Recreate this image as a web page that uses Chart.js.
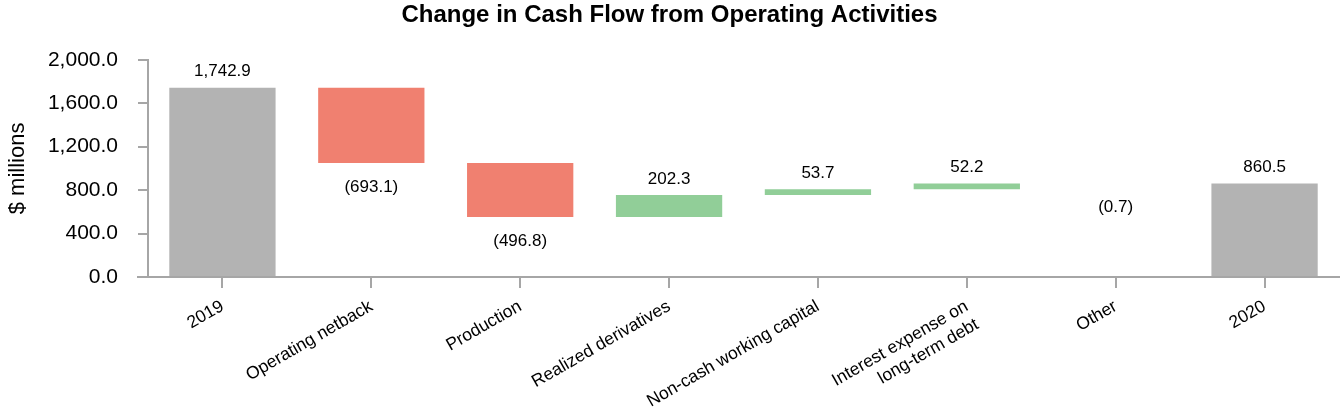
<!DOCTYPE html>
<html>
<head>
<meta charset="utf-8">
<script src="https://cdn.jsdelivr.net/npm/chart.js@4/dist/chart.umd.min.js"></script>
<style>
    body { margin: 0; background: #fff; }
</style>
</head>
<body>
<canvas id="cashChart" width="1340" height="420"></canvas>
<script>
// カテゴリ
const categories = ['2019', 'Operating netback', 'Production', 'Realized derivatives',
    'Non-cash working capital', ['Interest expense on', 'long-term debt'], 'Other', '2020'];
// 値（合計バーは total、それ以外は増減）
const amounts = [1742.9, -693.1, -496.8, 202.3, 53.7, 52.2, -0.7, 860.5];
const barKinds = ['total', 'change', 'change', 'change', 'change', 'change', 'change', 'total'];
// y軸の目盛り
const yTicks = [0, 400, 800, 1200, 1600, 2000];

const FONT = "'Liberation Sans', Arial, sans-serif";
const AXIS_COLOR = '#a6a6a6';

// ウォーターフォールの範囲を作る
let running = 0;
const ranges = amounts.map((v, i) => {
    if (barKinds[i] === 'total') {
        running = v;
        return [0, v];
    }
    const start = running;
    running = running + v;
    return [start, running];
});
const colors = amounts.map((v, i) => {
    if (barKinds[i] === 'total') return '#b3b3b3';
    if (Math.abs(v) < 1) return 'rgba(0,0,0,0)'; // 1px未満のバーは見えない
    return v < 0 ? '#f08070' : '#91ce98';
});

function formatValue(v) {
    const s = Math.abs(v).toLocaleString('en-US', { minimumFractionDigits: 1, maximumFractionDigits: 1 });
    return v < 0 ? '(' + s + ')' : s;
}

// 値ラベルとx軸の線
const waterfallLabels = {
    id: 'waterfallLabels',
    afterDatasetsDraw(chart) {
        const ctx = chart.ctx;
        const yScale = chart.scales.y;
        const meta = chart.getDatasetMeta(0);
        ctx.save();
        ctx.font = '17px ' + FONT;
        ctx.fillStyle = '#000';
        ctx.textAlign = 'center';
        ctx.textBaseline = 'middle';
        meta.data.forEach((bar, i) => {
            const r = ranges[i];
            const v = amounts[i];
            let y;
            if (v >= 0) {
                y = yScale.getPixelForValue(Math.max(r[0], r[1])) - 16;
            } else {
                y = yScale.getPixelForValue(Math.min(r[0], r[1])) + 24;
            }
            ctx.fillText(formatValue(v), bar.x, y);
        });
        // x軸の線（y軸より少し左から）
        const area = chart.chartArea;
        ctx.strokeStyle = AXIS_COLOR;
        ctx.lineWidth = 2;
        ctx.beginPath();
        ctx.moveTo(area.left - 11, area.bottom);
        ctx.lineTo(area.right + 1, area.bottom);
        ctx.stroke();
        ctx.restore();
    }
};

const config = {
    type: 'bar',
    data: {
        labels: categories,
        datasets: [{
            data: ranges,
            backgroundColor: colors,
            borderWidth: 0,
            categoryPercentage: 1.0,
            barPercentage: 0.714
        }]
    },
    options: {
        responsive: false,
        animation: false,
        layout: { padding: { left: 0, right: 1, top: 0, bottom: 0 } },
        plugins: {
            legend: { display: false },
            tooltip: { enabled: false },
            title: {
                display: true,
                text: 'Change in Cash Flow from Operating Activities',
                color: '#000',
                font: { family: FONT, size: 24, weight: 'bold' },
                padding: { top: 1, bottom: 30 }
            }
        },
        scales: {
            x: {
                grid: {
                    display: true,
                    drawOnChartArea: false,
                    drawTicks: true,
                    tickLength: 11,
                    color: AXIS_COLOR,
                    lineWidth: 2,
                    offset: false
                },
                border: { display: false },
                ticks: {
                    color: '#000',
                    font: { family: FONT, size: 17.5 },
                    minRotation: 30,
                    maxRotation: 30,
                    padding: 8,
                    autoSkip: false
                },
                afterFit(scale) { scale.height = 143; }
            },
            y: {
                min: 0,
                max: 2000,
                afterBuildTicks(scale) {
                    scale.ticks = yTicks.map(v => ({ value: v }));
                },
                grid: {
                    display: true,
                    drawOnChartArea: false,
                    drawTicks: true,
                    tickLength: 10,
                    color: AXIS_COLOR,
                    lineWidth: 2
                },
                border: { display: true, color: AXIS_COLOR, width: 2 },
                ticks: {
                    color: '#000',
                    font: { family: FONT, size: 21 },
                    padding: 20,
                    callback: v => Number(v).toLocaleString('en-US', { minimumFractionDigits: 1, maximumFractionDigits: 1 })
                },
                title: {
                    display: true,
                    text: '$ millions',
                    color: '#000',
                    font: { family: FONT, size: 22 },
                    padding: { top: 5, bottom: 0 }
                },
                afterFit(scale) { scale.width = 148; }
            }
        }
    },
    plugins: [waterfallLabels]
};

const chartInstance = new Chart(document.getElementById('cashChart').getContext('2d'), config);
</script>
</body>
</html>
